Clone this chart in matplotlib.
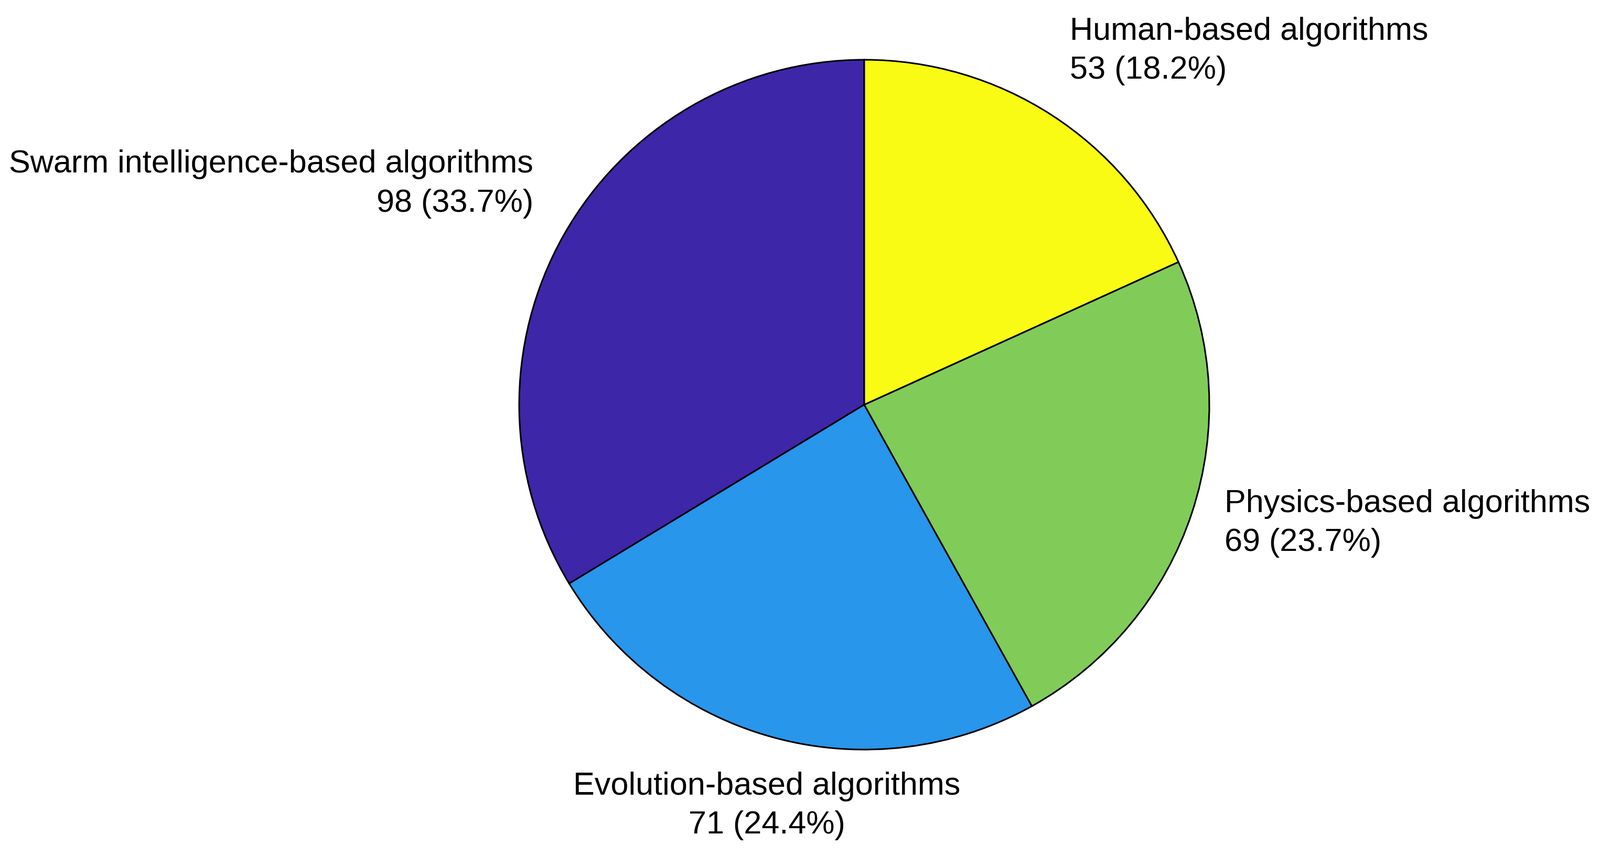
import numpy as np
import matplotlib
matplotlib.use('Agg')
import matplotlib.pyplot as plt

plt.rcParams['font.family'] = ['Liberation Sans', 'DejaVu Sans']

# data, in drawing order (counter-clockwise from 12 o'clock)
names = ['Swarm intelligence-based algorithms', 'Evolution-based algorithms',
         'Physics-based algorithms', 'Human-based algorithms']
counts = [98, 71, 69, 53]
# parula(4)
colors = ['#3e26a8', '#2796eb', '#81cc59', '#f9fb15']

W, H, dpi = 3051, 1654, 100
cx, cy, R = 1648, 772, 658  # pie centre / radius in pixels

fig = plt.figure(figsize=(W / dpi, H / dpi), dpi=dpi)
ax = fig.add_axes([0, 0, 1, 1])
wedges, _ = ax.pie(counts, colors=colors, startangle=90, counterclock=True,
                   wedgeprops=dict(edgecolor='black', linewidth=2.2))
ax.set_xlim(-cx / R, (W - cx) / R)
ax.set_ylim(-(H - cy) / R, cy / R)
ax.set_aspect('auto')
ax.axis('off')

total = sum(counts)
for w, name, n in zip(wedges, names, counts):
    a = np.deg2rad((w.theta1 + w.theta2) / 2)
    x, y = 1.1 * np.cos(a), 1.1 * np.sin(a)
    if abs(np.cos(a)) < 0.4:
        ha = 'center'
    else:
        ha = 'left' if x > 0 else 'right'
    if abs(np.sin(a)) < 0.4:
        va = 'center'
    else:
        va = 'bottom' if y > 0 else 'top'
    ax.text(x, y, '{}\n{} ({:.1f}%)'.format(name, n, 100 * n / total),
            ha=ha, va=va, fontsize=44, linespacing=1.4,
            multialignment=ha if ha != 'center' else 'center')

fig.savefig('out.png', dpi=dpi)
